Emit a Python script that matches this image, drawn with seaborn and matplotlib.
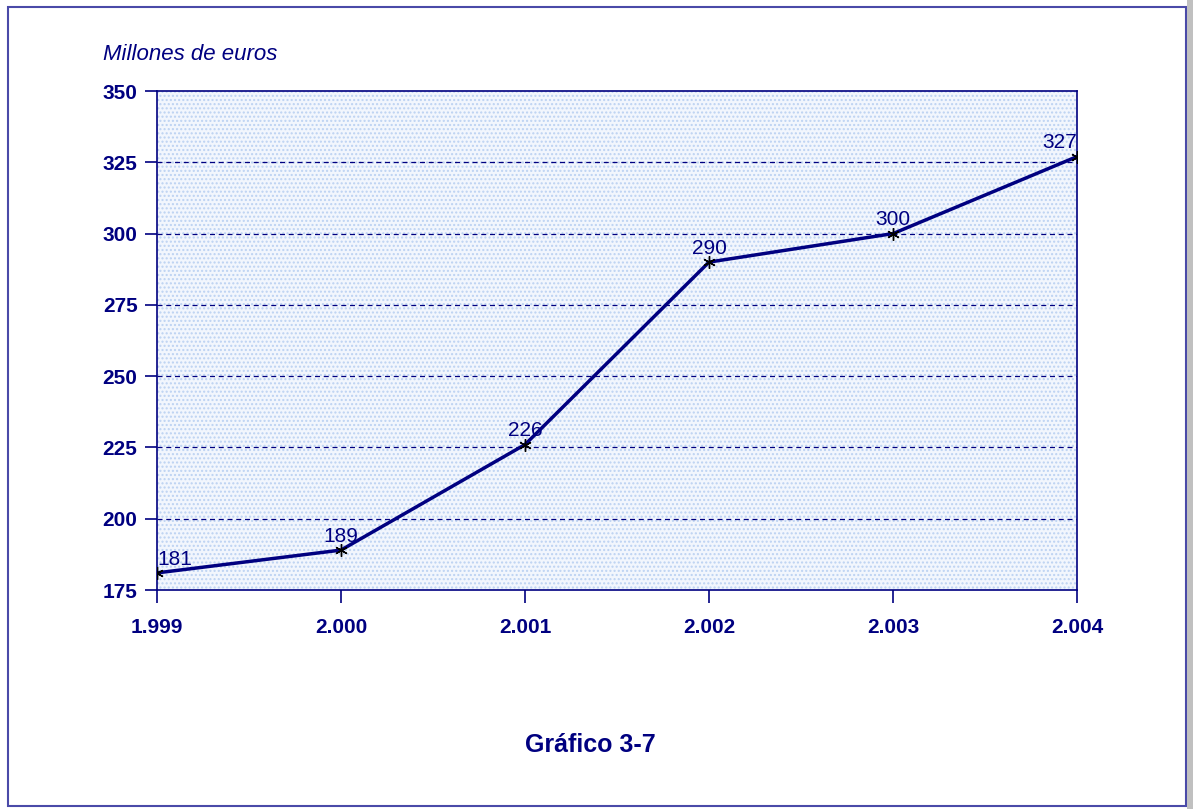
import pandas as pd
import seaborn as sns
import matplotlib.pyplot as plt
from matplotlib.patches import Rectangle

years = [1999, 2000, 2001, 2002, 2003, 2004]
values = [181, 189, 226, 290, 300, 327]
year_labels = ['1.999', '2.000', '2.001', '2.002', '2.003', '2.004']
y_ticks = [175, 200, 225, 250, 275, 300, 325, 350]

navy = '#000080'

sns.set_style('white')
plt.rcParams['font.family'] = ['Liberation Sans', 'DejaVu Sans']

df = pd.DataFrame({'anio': years, 'valor': values})

fig = plt.figure(figsize=(11.93, 8.09), dpi=100)
ax = fig.add_axes([0.1316, 0.2707, 0.7712, 0.6168])

# marco de la figura
fig.patches.append(Rectangle((8 / 1193, 3 / 809), 1178 / 1193, 799 / 809, transform=fig.transFigure,
                             fill=False, edgecolor='#4a4aa8', linewidth=1.5))
fig.patches.append(Rectangle((1187 / 1193, 0), 6 / 1193, 1, transform=fig.transFigure,
                             facecolor='#c0c0c0', edgecolor='none'))

ax.set_facecolor('#f2f6fd')
ax.patch.set_hatch('....')
ax.patch.set_edgecolor('#bcd2f2')

sns.lineplot(data=df, x='anio', y='valor', ax=ax, color=navy, linewidth=2.5,
             marker=(6, 2, 0), markersize=9, markeredgecolor='black', markerfacecolor='black',
             markeredgewidth=1, zorder=3)

ax.set_xlim(1999, 2004)
ax.set_ylim(175, 350)
ax.set_xticks(years)
ax.set_xticklabels(year_labels)
ax.set_yticks(y_ticks)
ax.tick_params(axis='both', direction='out', length=9, width=1.2, color=navy,
               labelcolor=navy, labelsize=15, pad=5)
ax.tick_params(axis='x', bottom=True, pad=11)
ax.tick_params(axis='y', left=True)
for lab in ax.get_xticklabels() + ax.get_yticklabels():
    lab.set_fontweight('bold')

for y in y_ticks[1:-1]:
    ax.axhline(y, color=navy, linestyle=(0, (4, 3)), linewidth=0.9, zorder=1)

for s in ax.spines.values():
    s.set_color(navy)
    s.set_linewidth(1.2)

ax.set_xlabel('')
ax.set_ylabel('')

for i, (x, v) in enumerate(zip(years, values)):
    ha = 'left' if i == 0 else ('right' if i == len(years) - 1 else 'center')
    ax.annotate(str(v), (x, v), xytext=(0, 3), textcoords='offset points',
                ha=ha, va='bottom', color=navy, fontsize=15, zorder=4)

fig.text(103 / 1193, 1 - 54 / 809, 'Millones de euros', color=navy, fontsize=16,
         style='italic', ha='left', va='center')
fig.text(590 / 1193, 1 - 745 / 809, 'Gráfico 3-7', color=navy, fontsize=18,
         fontweight='bold', ha='center', va='center')

fig.savefig('out.png', dpi=100)
